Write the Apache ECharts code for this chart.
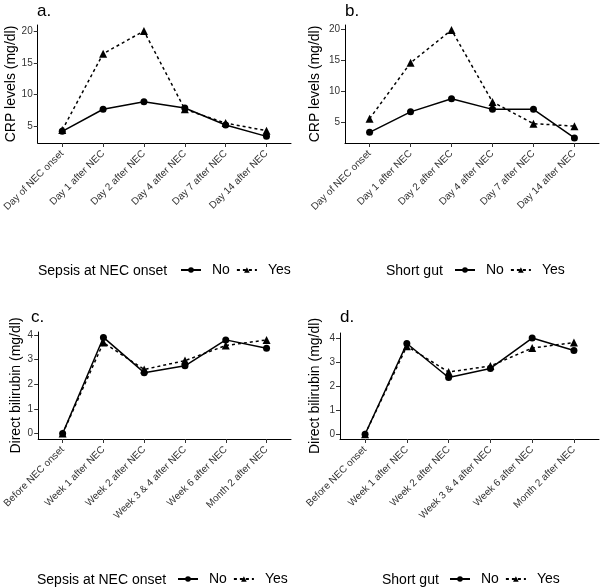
<!DOCTYPE html>
<html><head><meta charset="utf-8">
<script src="https://cdn.jsdelivr.net/npm/echarts@6/dist/echarts.min.js"></script>
<style>html,body{margin:0;padding:0;background:#fff}#c{width:600px;height:587px}</style>
</head><body><div id="c"></div>
<script>
const crpCategories = ['Day of NEC onset','Day 1 after NEC','Day 2 after NEC','Day 4 after NEC','Day 7 after NEC','Day 14 after NEC'];
const bilCategories = ['Before NEC onset','Week 1 after NEC','Week 2 after NEC','Week 3 & 4 after NEC','Week 6 after NEC','Month 2 after NEC'];
const crpSepsisNo = [4.2, 7.7, 8.9, 7.9, 5.2, 3.4];
const crpSepsisYes = [4.4, 16.5, 20.1, 7.7, 5.5, 4.3];
const crpShortGutNo = [3.4, 6.7, 8.8, 7.1, 7.1, 2.5];
const crpShortGutYes = [5.6, 14.6, 19.9, 8.3, 4.8, 4.4];
const bilSepsisNo = [0, 3.9, 2.47, 2.75, 3.8, 3.46];
const bilSepsisYes = [0, 3.69, 2.6, 2.96, 3.57, 3.8];
const bilShortGutNo = [0, 3.79, 2.37, 2.75, 4.02, 3.5];
const bilShortGutYes = [0, 3.68, 2.6, 2.85, 3.6, 3.83];
const crpTicks = [5, 10, 15, 20];
const bilTicks = [0, 1, 2, 3, 4];
const catPositions = [0, 1, 2, 3, 4, 5];
const legendGroups = ['Sepsis at NEC onset', 'Short gut', 'Sepsis at NEC onset', 'Short gut'];
const panelLetters = ['a.', 'b.', 'c.', 'd.'];

const FONT = 'Liberation Sans, Arial, sans-serif';
const grids = [
  {left: 37, top: 25, width: 254, height: 118},
  {left: 345, top: 25, width: 254, height: 118},
  {left: 31, top: 332, width: 260, height: 107},
  {left: 340, top: 333, width: 259, height: 106}
];
const yRanges = [[2.35, 21.05], [1.68, 20.7], [-0.22, 4.12], [-0.2, 4.23]];
const yTicks = [crpTicks, crpTicks, bilTicks, bilTicks];
const yNames = ['CRP levels (mg/dl)', 'CRP levels (mg/dl)', 'Direct bilirubin (mg/dl)', 'Direct bilirubin (mg/dl)'];
const yNameGaps = [20, 23, 15, 18];
const cats = [crpCategories, crpCategories, bilCategories, bilCategories];
const seriesNo = [crpSepsisNo, crpShortGutNo, bilSepsisNo, bilShortGutNo];
const seriesYes = [crpSepsisYes, crpShortGutYes, bilSepsisYes, bilShortGutYes];

const xAxes = grids.map((g, i) => ({
  type: 'value', gridIndex: i, min: -0.6, max: 5.6,
  axisLine: {show: true, onZero: false, lineStyle: {color: '#000', width: 1}},
  axisTick: {show: true, inside: false, customValues: catPositions, length: 4, lineStyle: {color: '#333'}},
  axisLabel: {customValues: catPositions, rotate: 45, margin: 9, fontSize: 10, color: '#333', fontFamily: FONT,
    formatter: v => cats[i][Math.round(v)]},
  splitLine: {show: false}
}));
const yAxes = grids.map((g, i) => ({
  type: 'value', gridIndex: i, min: yRanges[i][0], max: yRanges[i][1],
  name: yNames[i], nameLocation: 'middle', nameGap: yNameGaps[i],
  nameTextStyle: {fontSize: 14, color: '#000', fontFamily: FONT},
  axisLine: {show: true, onZero: false, lineStyle: {color: '#000', width: 1}},
  axisTick: {show: true, inside: false, customValues: yTicks[i], length: 4, lineStyle: {color: '#333'}},
  axisLabel: {customValues: yTicks[i], margin: 5, fontSize: 10, color: '#333', fontFamily: FONT},
  splitLine: {show: false}
}));
const series = [];
grids.forEach((g, i) => {
  series.push({name: 'No', type: 'line', xAxisIndex: i, yAxisIndex: i,
    data: seriesNo[i].map((v, k) => [k, v]), symbol: 'circle', symbolSize: 7,
    lineStyle: {color: '#000', width: 1.5, type: 'solid'}, itemStyle: {color: '#000'}});
  series.push({name: 'Yes', type: 'line', xAxisIndex: i, yAxisIndex: i,
    data: seriesYes[i].map((v, k) => [k, v]), symbol: 'triangle', symbolSize: 8,
    lineStyle: {color: '#000', width: 1.5, type: [3, 3]}, itemStyle: {color: '#000'}});
});
const legendPos = [[180, 271], [454, 271], [177, 580], [449, 580]];
const titlePos = [[38, 271], [386, 271], [37, 580], [382, 580]];
const legends = legendPos.map(p => ({
  left: p[0], top: p[1] - 8, padding: 0, itemWidth: 20, itemHeight: 7, itemGap: 6,
  data: ['No', 'Yes'], selectedMode: false,
  textStyle: {fontSize: 14, color: '#000', fontFamily: FONT, padding: [0, 0, 0, 6]}
}));
const letterPos = [[37, 11], [345, 11], [31, 317], [340, 317]];
const graphics = [];
titlePos.forEach((p, i) => graphics.push({type: 'text', x: p[0], y: p[1],
  style: {text: legendGroups[i], font: '14px ' + FONT, fill: '#000', verticalAlign: 'middle'}}));
letterPos.forEach((p, i) => graphics.push({type: 'text', x: p[0], y: p[1],
  style: {text: panelLetters[i], font: '17px ' + FONT, fill: '#000', verticalAlign: 'middle'}}));

const chart = echarts.init(document.getElementById('c'), null, {renderer: 'canvas'});
chart.setOption({
  animation: false,
  grid: grids,
  xAxis: xAxes,
  yAxis: yAxes,
  series: series,
  legend: legends,
  graphic: graphics
});
</script></body></html>
